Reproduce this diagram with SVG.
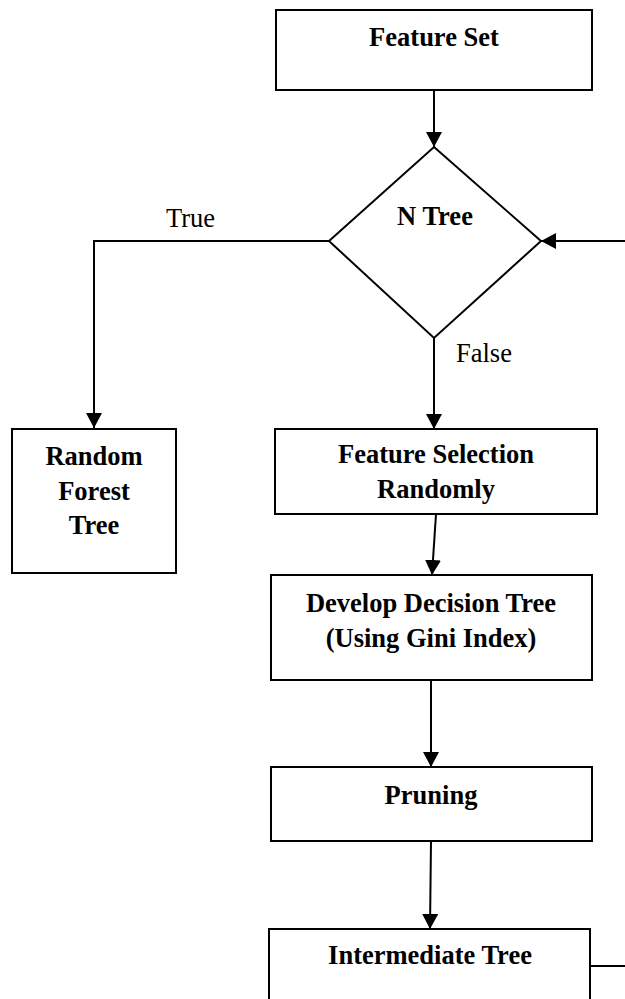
<svg xmlns="http://www.w3.org/2000/svg" width="625" height="999" viewBox="0 0 625 999">
<style>
.box{fill:#fff;stroke:#000;stroke-width:2}
.c{fill:none;stroke:#000;stroke-width:2}
.t{font-family:"Liberation Serif","Times New Roman",serif;font-size:26.5px;font-weight:bold;text-anchor:middle;fill:#000}
.l{font-family:"Liberation Serif","Times New Roman",serif;font-size:26.5px;fill:#000}
</style>
<defs>
<marker id="ah" markerUnits="userSpaceOnUse" markerWidth="15" markerHeight="16" refX="15" refY="8" orient="auto">
<path d="M0,0 L15,8 L0,16 z" fill="#000"/>
</marker>
</defs>
<rect width="625" height="999" fill="#fff"/>
<g id="connectors">
<line class="c" x1="434" y1="90" x2="434" y2="147" marker-end="url(#ah)"/>
<polyline class="c" points="329,241 94,241 94,428" marker-end="url(#ah)"/>
<line class="c" x1="434" y1="338" x2="434" y2="429" marker-end="url(#ah)"/>
<line class="c" x1="436" y1="514" x2="432" y2="575" marker-end="url(#ah)"/>
<line class="c" x1="431" y1="680" x2="431" y2="767" marker-end="url(#ah)"/>
<line class="c" x1="431" y1="841" x2="430" y2="929" marker-end="url(#ah)"/>
<line class="c" x1="625" y1="241" x2="541" y2="241" marker-end="url(#ah)"/>
<line class="c" x1="590" y1="966" x2="625" y2="966"/>
<text class="l" x="166" y="227">True</text>
<text class="l" x="456" y="362">False</text>
</g>
<g id="feature-set">
<rect class="box" x="276" y="10" width="316" height="80"/>
<text class="t" x="434" y="46">Feature Set</text>
</g>
<g id="n-tree">
<polygon class="box" points="434,147 541,241 434,338 329,241"/>
<text class="t" x="435" y="225">N Tree</text>
</g>
<g id="random-forest-tree">
<rect class="box" x="12" y="429" width="164" height="144"/>
<text class="t" x="94" y="465">Random</text>
<text class="t" x="94" y="500">Forest</text>
<text class="t" x="94" y="534">Tree</text>
</g>
<g id="feature-selection">
<rect class="box" x="275" y="429" width="322" height="85"/>
<text class="t" x="436" y="463">Feature Selection</text>
<text class="t" x="436" y="498">Randomly</text>
</g>
<g id="develop-decision-tree">
<rect class="box" x="271" y="575" width="321" height="105"/>
<text class="t" x="431" y="612">Develop Decision Tree</text>
<text class="t" x="431" y="647">(Using Gini Index)</text>
</g>
<g id="pruning">
<rect class="box" x="271" y="767" width="321" height="74"/>
<text class="t" x="431" y="804">Pruning</text>
</g>
<g id="intermediate-tree">
<rect class="box" x="269" y="929" width="321" height="80"/>
<text class="t" x="430" y="964">Intermediate Tree</text>
</g>
</svg>
